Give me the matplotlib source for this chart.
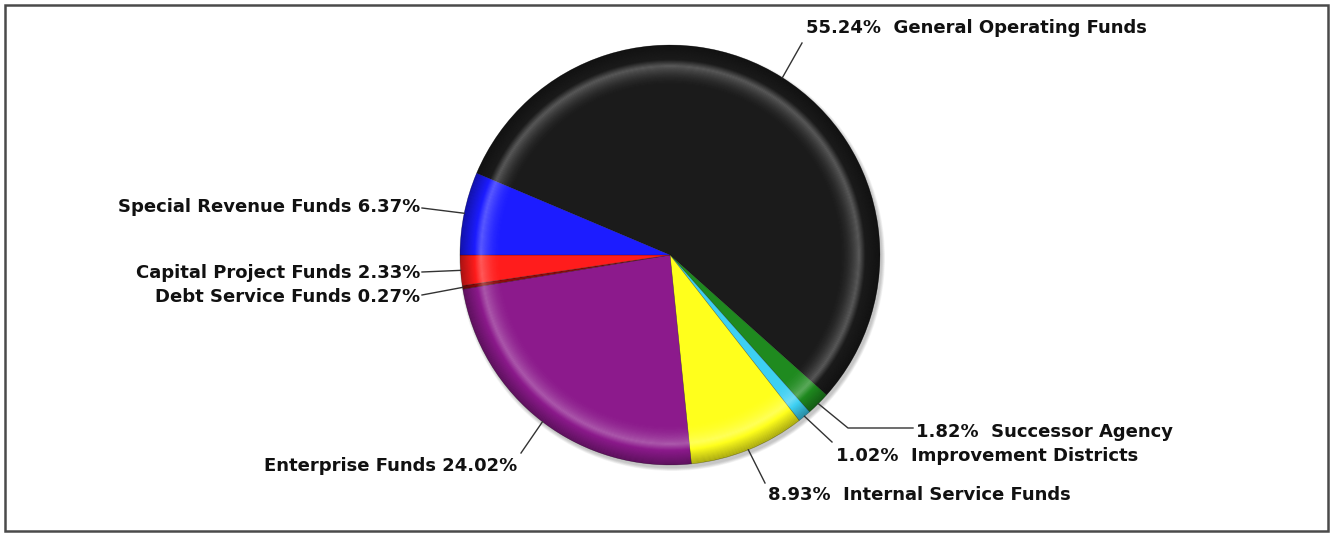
import numpy as np
import matplotlib
matplotlib.use('Agg')
import matplotlib.pyplot as plt
from matplotlib.patches import Wedge, Circle, Rectangle

#%% data
funds = ['General Operating Funds', 'Successor Agency', 'Improvement Districts',
         'Internal Service Funds', 'Enterprise Funds', 'Debt Service Funds',
         'Capital Project Funds', 'Special Revenue Funds']
shares = [55.24, 1.82, 1.02, 8.93, 24.02, 0.27, 2.33, 6.37]
colors = ['#1b1b1b', '#1f8a1f', '#3dd0f2', '#ffff1c', '#8c1a8c', '#8b0a0a', '#ff1c1c', '#1c1cff']

#%% label layout (pixel coords from top-left): text anchor, line end, alignment
label_pos = [(806, 28), (916, 432), (836, 456), (768, 495), (517, 466), (420, 297), (420, 273), (420, 207)]
line_end = [(802, 43), (848, 428), (832, 442), (765, 483), (521, 453), (422, 295), (422, 272), (422, 208)]
side = ['left', 'left', 'left', 'left', 'right', 'right', 'right', 'right']
elbow = [None, (913, 428), None, None, None, None, None, None]

W, H = 1333, 533
cx, cy, R = 670, H - 255, 210

fig = plt.figure(figsize=(W / 100, H / 100), dpi=100)
ax = fig.add_axes([0, 0, 1, 1])
ax.set_xlim(0, W)
ax.set_ylim(0, H)
ax.set_aspect('equal')
ax.axis('off')

# soft shadow
for k in range(6):
    ax.add_patch(Circle((cx + 2, cy - 3), R + 3 - k * 0.6, color='#000000', alpha=0.04, lw=0, zorder=1))

start = 180 - shares[-1] * 3.6
wedges, _ = ax.pie(shares, colors=colors, startangle=start, counterclock=False,
                   center=(cx, cy), radius=R, frame=True,
                   wedgeprops=dict(linewidth=0.4, edgecolor='#00000055'))
for w in wedges:
    w.set_zorder(2)

# bevel: light band then darker rim
n = 40
rs = np.linspace(0.80, 1.0, n + 1)
for i in range(n):
    r0, r1 = rs[i], rs[i + 1]
    t = (r0 + r1) / 2
    if t < 0.9:
        a = 0.28 * max(0, (t - 0.80) / 0.10) ** 2
        c = 'white'
    elif t < 0.93:
        a = 0.28 * (1 - (t - 0.9) / 0.03)
        c = 'white'
    else:
        a = 0.35 * ((t - 0.93) / 0.07)
        c = 'black'
    if a > 0:
        ax.add_patch(Wedge((cx, cy), R * r1, 0, 360, width=R * (r1 - r0), color=c, alpha=a, lw=0, zorder=3))

# labels with leader lines
for i, w in enumerate(wedges):
    mid = np.deg2rad((w.theta1 + w.theta2) / 2)
    px, py = cx + R * np.cos(mid), cy + R * np.sin(mid)
    xs, ys = [px, line_end[i][0]], [py, H - line_end[i][1]]
    if elbow[i] is not None:
        xs.append(elbow[i][0])
        ys.append(H - elbow[i][1])
    ax.plot(xs, ys, color='#333333', lw=1, zorder=4)
    pct = '%.2f%%' % shares[i]
    if side[i] == 'left':
        txt = pct + '  ' + funds[i]
    else:
        txt = funds[i] + ' ' + pct
    ax.text(label_pos[i][0], H - label_pos[i][1], txt, ha=side[i], va='center',
            fontsize=13, fontweight='bold', family='DejaVu Sans', color='#111111', zorder=5)

# frame
ax.add_patch(Rectangle((5, 2), 1323, 526, fill=False, edgecolor='#4a4a4a', lw=1.8, zorder=6))

plt.savefig('out.png', dpi=100)
